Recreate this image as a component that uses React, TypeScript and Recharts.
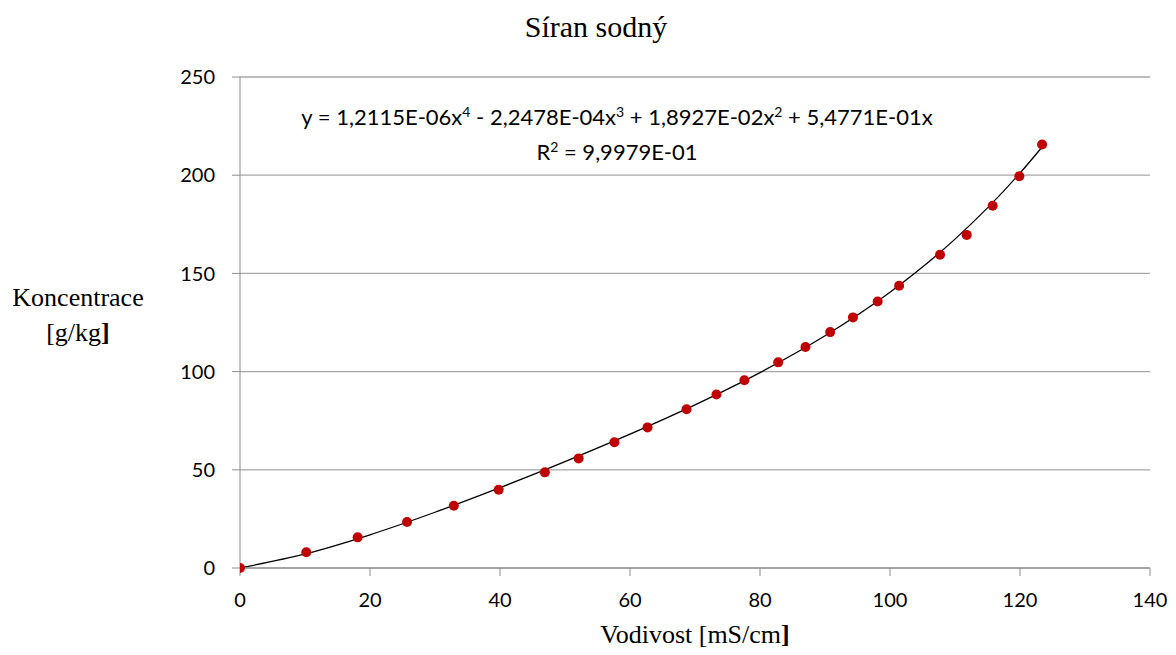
import React from "react";
import { ComposedChart, Scatter, Line, XAxis, YAxis, CartesianGrid } from "recharts";

// measured points: conductivity [mS/cm] vs concentration [g/kg]
const conductivity = [
  0, 10.2, 18.1, 25.7, 32.9, 39.8, 46.9, 52.1, 57.6, 62.7, 68.7, 73.3, 77.6, 82.8,
  87.0, 90.8, 94.3, 98.1, 101.4, 107.7, 111.8, 115.8, 119.9, 123.4,
];
const concentration = [
  0, 8.0, 15.6, 23.4, 31.7, 39.8, 48.7, 55.8, 64.0, 71.6, 80.8, 88.3, 95.6, 104.7,
  112.5, 120.1, 127.6, 135.7, 143.7, 159.5, 169.6, 184.4, 199.5, 215.6,
];

// trend line values
const trendX = [0, 10, 20, 30, 40, 50, 60, 70, 80, 90, 100, 110, 120, 123.5];
const trendY = [0, 7.16, 16.92, 28.38, 40.91, 54.18, 68.15, 83.07, 99.49, 118.23, 140.41, 167.46, 201.07, 214.74];

const xTicks = [0, 20, 40, 60, 80, 100, 120, 140];
const yTicks = [0, 50, 100, 150, 200, 250];

const title = "Síran sodný";
const equation = ["y = 1,2115E-06x", "4", " - 2,2478E-04x", "3", " + 1,8927E-02x", "2", " + 5,4771E-01x"];
const rSquared = "9,9979E-01";

const points = conductivity.map((x, i) => ({ x, y: concentration[i] }));
const trend = trendX.map((x, i) => ({ x, y: trendY[i] }));

const serif = "'Liberation Serif', 'Times New Roman', serif";
const sans = "Lato, 'Open Sans', sans-serif";

const RedDot = (props: any) => <circle cx={props.cx} cy={props.cy} r={5} fill="#C00000" />;

const supStyle = { fontSize: 14, lineHeight: 0 };

export default function App() {
  const tick = { fill: "#000", fontSize: 20, fontFamily: sans };
  return (
    <div style={{ position: "relative", width: 1160, height: 640 }}>
      <ComposedChart
        width={1160}
        height={640}
        margin={{ top: 69, right: 18, bottom: 40, left: 0 }}
      >
        <CartesianGrid vertical={false} stroke="#A6A6A6" strokeWidth={1.3} />
        <XAxis
          type="number"
          dataKey="x"
          domain={[0, 140]}
          ticks={xTicks}
          tick={tick}
          tickSize={8}
          tickMargin={17}
          height={40}
          stroke="#8C8C8C"
          allowDataOverflow
        />
        <YAxis
          type="number"
          dataKey="y"
          domain={[0, 250]}
          ticks={yTicks}
          tick={tick}
          tickSize={8}
          tickMargin={17}
          width={232}
          stroke="#8C8C8C"
        />
        <Scatter data={points} shape={RedDot} isAnimationActive={false} />
        <Line
          data={trend}
          dataKey="y"
          type="monotone"
          stroke="#000"
          strokeWidth={1.3}
          dot={false}
          activeDot={false}
          isAnimationActive={false}
        />
      </ComposedChart>

      <div
        style={{
          position: "absolute",
          left: 588,
          top: 4,
          transform: "translateX(-50%)",
          fontFamily: serif,
          fontSize: 30,
          lineHeight: "30px",
          whiteSpace: "nowrap",
        }}
      >
        {title}
      </div>

      <div
        style={{
          position: "absolute",
          left: 70,
          top: 272,
          transform: "translateX(-50%)",
          fontFamily: serif,
          fontSize: 26,
          lineHeight: "35px",
          textAlign: "center",
          whiteSpace: "nowrap",
        }}
      >
        Koncentrace
        <br />
        [g/kg<b>]</b>
      </div>

      <div
        style={{
          position: "absolute",
          left: 687,
          top: 614,
          transform: "translateX(-50%)",
          fontFamily: serif,
          fontSize: 26,
          lineHeight: "26px",
          whiteSpace: "nowrap",
        }}
      >
        Vodivost [mS/cm<b>]</b>
      </div>

      <div
        style={{
          position: "absolute",
          left: 609,
          top: 91,
          transform: "translateX(-50%)",
          fontFamily: sans,
          fontSize: 22,
          lineHeight: "35px",
          textAlign: "center",
          whiteSpace: "nowrap",
        }}
      >
        <div>
          {equation.map((part, i) =>
            i % 2 === 1 ? (
              <sup key={i} style={supStyle}>
                {part}
              </sup>
            ) : (
              <span key={i}>{part}</span>
            )
          )}
        </div>
        <div>
          R<sup style={supStyle}>2</sup> = {rSquared}
        </div>
      </div>
    </div>
  );
}
